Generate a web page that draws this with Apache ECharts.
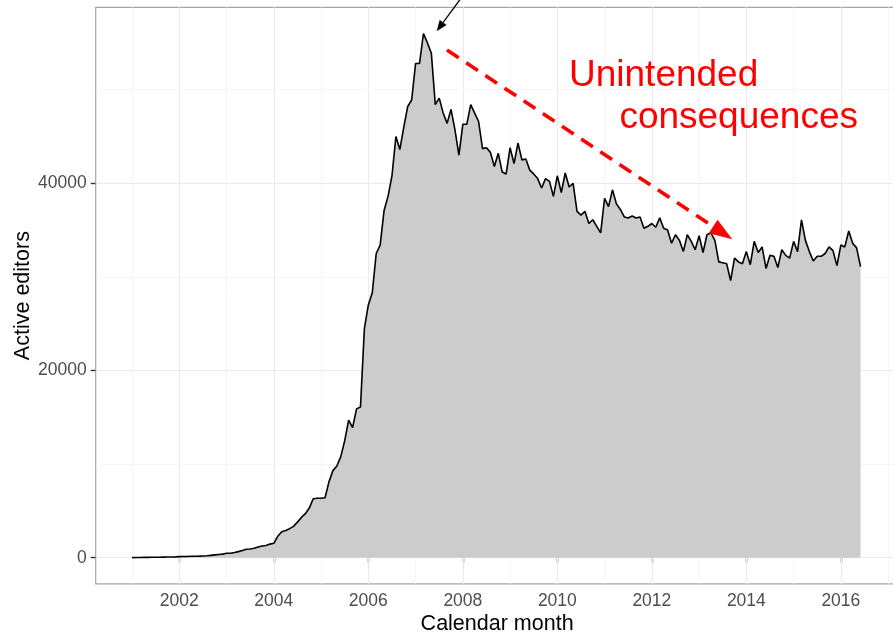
<!DOCTYPE html>
<html>
<head>
<meta charset="utf-8">
<script src="https://cdn.jsdelivr.net/npm/echarts@6/dist/echarts.min.js"></script>
<style>
html,body{margin:0;padding:0;background:#fff;}
#chart{width:893px;height:633px;}
</style>
</head>
<body>
<div id="chart"></div>
<script>
// Monthly active editors, Jan of each year through Dec (2016 through Jun)
const y2001 = [10, 15, 25, 30, 35, 40, 45, 50, 60, 70, 75, 90];
const y2002 = [110, 120, 130, 150, 160, 170, 180, 200, 250, 300, 340, 380];
const y2003 = [470, 480, 560, 650, 760, 900, 930, 1000, 1150, 1250, 1300, 1450];
const y2004 = [1540, 2300, 2780, 2900, 3100, 3350, 3800, 4300, 4700, 5300, 6300, 6350];
const y2005 = [6350, 6400, 8100, 9300, 9800, 10800, 12500, 14700, 13900, 15900, 16100, 24500];
const y2006 = [27000, 28300, 32500, 33400, 37100, 38600, 40800, 45000, 43600, 46000, 48200, 48900];
const y2007 = [52800, 52800, 56000, 55000, 53900, 48400, 49100, 47500, 46400, 47900, 45700, 43000];
const y2008 = [46300, 46300, 48400, 47500, 46600, 43700, 43800, 43300, 41800, 43200, 41200, 41000];
const y2009 = [43800, 42100, 44300, 42500, 42600, 41400, 41000, 40500, 39500, 40500, 40200, 38600];
const y2010 = [40800, 39000, 41100, 39600, 40000, 37000, 36600, 37000, 35700, 36100, 35400, 34700];
const y2011 = [38400, 37500, 39300, 37800, 37200, 36400, 36300, 36500, 36300, 36400, 35200, 35400];
const y2012 = [35700, 35300, 36300, 35200, 35000, 33600, 34500, 33900, 32700, 34500, 33800, 32900];
const y2013 = [34400, 32600, 34500, 34700, 33900, 31600, 31500, 31400, 29600, 32000, 31600, 31400];
const y2014 = [32700, 31300, 33800, 32600, 33200, 30900, 32300, 32200, 31000, 32900, 32300, 32000];
const y2015 = [33800, 32700, 36100, 33900, 32700, 31700, 32200, 32200, 32500, 33200, 32800, 31200];
const y2016 = [33400, 33200, 34900, 33600, 33100, 31100];

const startYear = 2001;
const yearlyValues = [y2001, y2002, y2003, y2004, y2005, y2006, y2007, y2008,
                      y2009, y2010, y2011, y2012, y2013, y2014, y2015, y2016];

const xTickLabels = [2002, 2004, 2006, 2008, 2010, 2012, 2014, 2016];
const xMinorGrid = [2001, 2003, 2005, 2007, 2009, 2011, 2013, 2015, 2017];
const yTickLabels = [0, 20000, 40000];
const yMinorGrid = [10000, 30000, 50000];

// annotation arrows, in data coordinates [x, y]
const peakArrow = [[2007.98, 59900], [2007.455, 56300]];
const trendArrow = [[2007.665, 54240], [2013.50, 34700]];
const annotationText = ['Unintended', 'consequences'];

const xRange = [2000.23, 2017.22];
const yRange = [-2800, 58800];

const seriesData = [];
yearlyValues.forEach((vals, i) => {
  vals.forEach((v, m) => seriesData.push([startYear + i + m / 12, v]));
});

const gridLines = [];
xTickLabels.forEach(v => gridLines.push({xAxis: v, lineStyle: {color: '#EBEBEB', width: 1.2, type: 'solid'}}));
xMinorGrid.forEach(v => gridLines.push({xAxis: v, lineStyle: {color: '#F4F4F4', width: 0.8, type: 'solid'}}));
yTickLabels.forEach(v => gridLines.push({yAxis: v, lineStyle: {color: '#EBEBEB', width: 1.2, type: 'solid'}}));
yMinorGrid.forEach(v => gridLines.push({yAxis: v, lineStyle: {color: '#F4F4F4', width: 0.8, type: 'solid'}}));

const chart = echarts.init(document.getElementById('chart'), null, {renderer: 'canvas'});
const fontFam = '"Liberation Sans", Arial, Helvetica, sans-serif';

chart.setOption({
  animation: false,
  backgroundColor: '#ffffff',
  grid: {
    left: 95.7, top: 7.3, width: 802.8, height: 576.6,
    containLabel: false, outerBoundsMode: 'none',
    show: true, borderColor: '#A6A6A6', borderWidth: 1.2, backgroundColor: 'transparent'
  },
  xAxis: {
    type: 'value', min: xRange[0], max: xRange[1],
    name: 'Calendar month', nameLocation: 'middle', nameGap: 29, nameMoveOverlap: false,
    nameTextStyle: {fontFamily: fontFam, fontSize: 21.5, color: '#000'},
    axisLine: {show: false},
    splitLine: {show: false},
    axisTick: {show: true, customValues: xTickLabels, length: 5, inside: false,
               lineStyle: {color: '#333', width: 1.4}},
    axisLabel: {show: true, customValues: xTickLabels, margin: 8,
                fontFamily: fontFam, fontSize: 17.5, color: '#4D4D4D',
                formatter: v => String(Math.round(v))}
  },
  yAxis: {
    type: 'value', min: yRange[0], max: yRange[1],
    name: 'Active editors', nameLocation: 'middle', nameGap: 62, nameRotate: 90,
    nameMoveOverlap: false,
    nameTextStyle: {fontFamily: fontFam, fontSize: 21.5, color: '#000'},
    axisLine: {show: false},
    splitLine: {show: false},
    axisTick: {show: true, customValues: yTickLabels, length: 5, inside: false,
               lineStyle: {color: '#333', width: 1.4}},
    axisLabel: {show: true, customValues: yTickLabels, margin: 9,
                fontFamily: fontFam, fontSize: 17.5, color: '#4D4D4D',
                formatter: v => String(Math.round(v))}
  },
  series: [
    {
      name: 'gridlines', type: 'line', z: 1, silent: true,
      data: [], symbol: 'none',
      markLine: {silent: true, symbol: 'none', label: {show: false}, animation: false,
                 z: 1, emphasis: {disabled: true}, data: gridLines}
    },
    {
      name: 'Active editors', type: 'line', z: 3,
      data: seriesData, symbol: 'none', showSymbol: false, smooth: false,
      lineStyle: {color: '#000', width: 1.6},
      areaStyle: {color: '#CCCCCC', opacity: 1},
      clip: true
    },
    {
      name: 'trendArrow', type: 'line', z: 5, data: [], symbol: 'none', clip: false,
      markLine: {
        silent: true, animation: false, label: {show: false}, emphasis: {disabled: true},
        z: 6,
        symbol: ['none', 'triangle'],
        lineStyle: {color: '#FF0000', width: 3.6, type: [14, 9], cap: 'butt'},
        itemStyle: {color: '#FF0000'},
        data: [[{coord: trendArrow[0], symbol: 'none'},
                {coord: trendArrow[1], symbol: 'triangle', symbolSize: [16, 23],
                 itemStyle: {color: '#FF0000'}}]]
      }
    }
  ]
});

// black arrow pointing at the peak, positioned through the axis scales
const p0 = chart.convertToPixel({gridIndex: 0}, peakArrow[0]);
const p1 = chart.convertToPixel({gridIndex: 0}, peakArrow[1]);
const ang = Math.atan2(p1[1] - p0[1], p1[0] - p0[0]);
const headLen = 10, headHalf = 4;
const bx = p1[0] - headLen * Math.cos(ang), by = p1[1] - headLen * Math.sin(ang);
const nx = -Math.sin(ang), ny = Math.cos(ang);
chart.setOption({
  graphic: [
    {id: 'txt1', type: 'text', x: 569, y: 76, z: 10,
     style: {text: annotationText[0], fontFamily: fontFam, fontSize: 37, fill: '#FF0000',
             align: 'left', verticalAlign: 'middle'}},
    {id: 'txt2', type: 'text', x: 858, y: 118, z: 10,
     style: {text: annotationText[1], fontFamily: fontFam, fontSize: 37, fill: '#FF0000',
             align: 'right', verticalAlign: 'middle'}},
    {id: 'arrLine', type: 'line', z: 10, shape: {x1: p0[0], y1: p0[1], x2: bx, y2: by},
     style: {stroke: '#000', lineWidth: 1.3}},
    {id: 'arrHead', type: 'polygon', z: 10,
     shape: {points: [[p1[0], p1[1]], [bx + nx * headHalf, by + ny * headHalf], [bx - nx * headHalf, by - ny * headHalf]]},
     style: {fill: '#000', stroke: '#000', lineWidth: 0.5}}
  ]
});
</script>
</body>
</html>
